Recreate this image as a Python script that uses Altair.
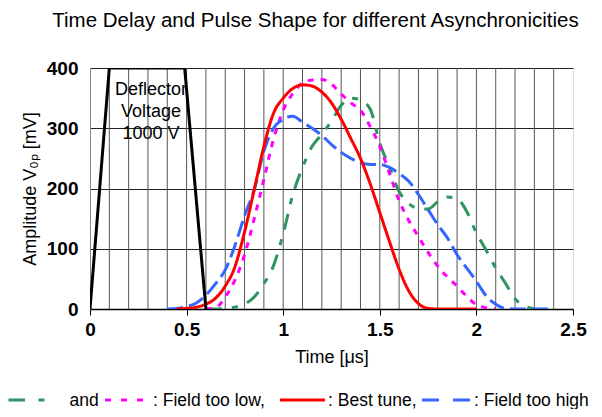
import altair as alt
import pandas as pd

# ---- data ----
green_t = [0.60,0.65,0.70,0.75,0.80,0.85,0.90,0.95,1.00,1.05,1.10,1.15,1.20,1.25,1.30,1.35,1.40,1.45,1.50,1.55,1.60,1.65,1.70,1.75,1.80,1.85,1.90,1.95,2.00,2.05,2.10,2.15,2.20,2.25,2.30]
green_v = [0,0,1,3,8,20,42,72,125,190,235,270,290,312,338,350,347,332,275,235,195,175,167,166,178,186,183,162,126,98,68,43,17,5,0]

mag_t = [0.60,0.65,0.70,0.75,0.80,0.85,0.90,0.95,1.00,1.05,1.10,1.15,1.20,1.25,1.30,1.35,1.40,1.45,1.50,1.55,1.60,1.65,1.70,1.75,1.80,1.85,1.90,1.95,2.00,2.05,2.10]
mag_v = [0,2,20,48,90,150,215,282,330,358,375,380,381,373,357,342,330,303,270,225,180,147,120,94,71,53,38,21,7,2,0]

red_t = [0.45,0.50,0.55,0.60,0.65,0.70,0.75,0.80,0.85,0.90,0.95,1.00,1.05,1.10,1.15,1.20,1.25,1.30,1.35,1.40,1.45,1.50,1.55,1.60,1.65,1.70,1.75,1.80,1.85,1.90,1.95,2.00]
red_v = [0,1,3,8,18,38,70,128,198,270,325,350,366,372,370,360,342,315,283,250,208,160,112,66,30,9,1,0,0,0,0,0]

blue_t = [0.40,0.45,0.50,0.55,0.60,0.65,0.70,0.75,0.80,0.85,0.90,0.95,1.00,1.05,1.10,1.15,1.20,1.25,1.30,1.35,1.40,1.45,1.50,1.55,1.60,1.65,1.70,1.75,1.80,1.85,1.90,1.95,2.00,2.05,2.10,2.15,2.20,2.30,2.40]
blue_v = [0,1,4,10,23,42,65,105,155,198,262,300,315,320,310,300,288,273,260,250,243,240,240,235,225,212,190,165,140,118,90,68,46,22,8,1,0,0,0]

defl_t = [0.0, 0.1, 0.49, 0.6]
defl_v = [0, 400, 400, 0]

series_names = ["green", "magenta", "blue", "red"]
series_colors = ["#2E9460", "#FF00FF", "#3366FF", "#FF0000"]
series_dash = [[16, 10, 6, 10], [6, 7], [16, 6], [1, 0]]

x_ticks = [0, 0.5, 1, 1.5, 2, 2.5]
x_grid = [0.1,0.2,0.3,0.4,0.5,0.6,0.7,0.8,0.9,1.0,1.1,1.2,1.3,1.4,1.5,1.6,1.7,1.8,1.9,2.0,2.1,2.2,2.3,2.4]
y_ticks = [0, 100, 200, 300, 400]

title_text = "Time Delay and Pulse Shape for different Asynchronicities"
x_title = "Time [\u03bcs]"
y_title = "Amplitude V\u2080\u209a [mV]"
note_lines = ["Deflector", "Voltage", "1000 V"]
legend_texts = ["and", ": Field too low,", ": Best tune,", ": Field too high"]

FONT = "Liberation Sans"

rows = []
for name, ts, vs in [("green", green_t, green_v), ("magenta", mag_t, mag_v),
                     ("blue", blue_t, blue_v), ("red", red_t, red_v)]:
    for t, v in zip(ts, vs):
        rows.append({"series": name, "t": t, "v": v})
df = pd.DataFrame(rows)
df_defl = pd.DataFrame({"t": defl_t, "v": defl_v})
df_grid = pd.DataFrame({"t": x_grid})
one = pd.DataFrame({"k": [0]})

xscale = alt.Scale(domain=[0, 2.5], nice=False, zero=False)
yscale = alt.Scale(domain=[0, 400], nice=False)

xaxis = alt.Axis(values=x_ticks, format="~g", title=x_title, grid=False, labelFlush=False,
                 labelFontWeight="bold", labelFontSize=19, labelPadding=5,
                 tickSize=6, tickColor="black", domainColor="black", domainWidth=1.5,
                 titleFontSize=18, titleFontWeight="normal", titleY=48, titleBaseline="middle",
                 labelColor="black", titleColor="black", labelFont=FONT, titleFont=FONT)
yaxis = alt.Axis(values=y_ticks, title=y_title, grid=True, gridColor="#222", gridWidth=1,
                 ticks=False, domainColor="#888", labelFlush=False,
                 labelFontWeight="bold", labelFontSize=19, labelPadding=12,
                 titleFontSize=18, titleFontWeight="normal", titleX=-60, titleY=120.5,
                 titleAngle=-90, titleAlign="center", titleBaseline="middle",
                 labelColor="black", titleColor="black", labelFont=FONT, titleFont=FONT)

grid = alt.Chart(df_grid).mark_rule(color="#555", strokeWidth=1).encode(
    x=alt.X("t:Q", scale=xscale, axis=xaxis)
)

curves = alt.Chart(df).mark_line(strokeWidth=3, interpolate="monotone", clip=True).encode(
    x=alt.X("t:Q", scale=xscale, axis=xaxis),
    y=alt.Y("v:Q", scale=yscale, axis=yaxis),
    color=alt.Color("series:N", scale=alt.Scale(domain=series_names, range=series_colors), legend=None),
    strokeDash=alt.StrokeDash("series:N", scale=alt.Scale(domain=series_names, range=series_dash), legend=None),
    order=alt.Order("t:Q"),
)

defl = alt.Chart(df_defl).mark_line(color="black", strokeWidth=3, clip=True).encode(
    x=alt.X("t:Q", scale=xscale),
    y=alt.Y("v:Q", scale=yscale),
)

note = alt.Chart(one).mark_text(fontSize=18, font=FONT, lineHeight=22, align="center",
                                baseline="middle", color="black").encode(
    x=alt.value(61), y=alt.value(22), text=alt.value(note_lines)
)

LY = 332
leg_green = alt.Chart(one).mark_rule(color=series_colors[0], strokeWidth=3,
                                     strokeDash=[16.5, 13.5, 6, 40]).encode(
    x=alt.value(-81.5), x2=alt.value(-45.5), y=alt.value(LY))
leg_mag = alt.Chart(one).mark_rule(color=series_colors[1], strokeWidth=3,
                                   strokeDash=[6, 10]).encode(
    x=alt.value(15), x2=alt.value(54), y=alt.value(LY))
leg_red = alt.Chart(one).mark_rule(color=series_colors[3], strokeWidth=3).encode(
    x=alt.value(190), x2=alt.value(235), y=alt.value(LY))
leg_blue = alt.Chart(one).mark_rule(color=series_colors[2], strokeWidth=3,
                                    strokeDash=[17, 14]).encode(
    x=alt.value(332), x2=alt.value(380), y=alt.value(LY))

leg_text_x = [-20.5, 63, 238, 384]
leg_texts = [
    alt.Chart(one).mark_text(fontSize=17.5, font=FONT, align="left", baseline="middle",
                             color="black").encode(
        x=alt.value(xx), y=alt.value(LY + 1), text=alt.value(tt))
    for xx, tt in zip(leg_text_x, legend_texts)
]

chart = alt.layer(grid, curves, defl, note, leg_green, leg_mag, leg_red, leg_blue, *leg_texts).properties(
    width=483, height=241,
    title=alt.TitleParams(title_text, fontSize=20.5, font=FONT, fontWeight="normal", color="black",
                          anchor="middle", frame="group", offset=28, dx=-16),
    autosize=alt.AutoSizeParams(type="none"),
    padding={"left": 82, "top": 60, "right": 20, "bottom": 100},
).configure_view(stroke="#999", strokeWidth=1).configure(background="white")

chart.save("out.html", embed_options={"renderer": "svg", "actions": False})
